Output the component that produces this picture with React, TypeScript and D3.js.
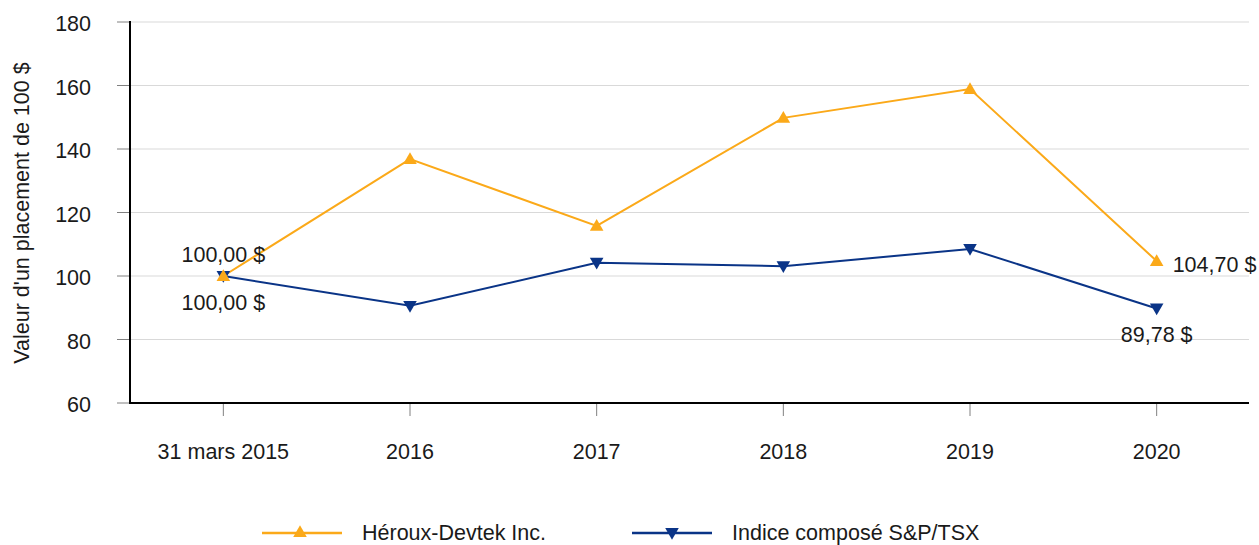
import React from "react";
import * as d3 from "d3";

const categories = ["31 mars 2015", "2016", "2017", "2018", "2019", "2020"];
const herouxValues = [100, 136.8, 115.8, 149.8, 158.9, 104.7];
const tsxValues = [100, 90.6, 104.2, 103.1, 108.5, 89.78];
const yTicks = [60, 80, 100, 120, 140, 160, 180];
const seriesNames = ["Héroux-Devtek Inc.", "Indice composé S&P/TSX"];

const W = 1259, H = 545;
const left = 130, right = 1250, top = 22, bottom = 403;
const ORANGE = "#FBA919";
const BLUE = "#0A3487";
const FONT = "'Liberation Sans', Arial, sans-serif";
const FS = 21.5;

export default function App() {
  const x = d3.scaleBand<string>().domain(categories).range([left, right]);
  const cx = (c: string) => (x(c) as number) + x.bandwidth() / 2;
  const y = d3.scaleLinear().domain([60, 180]).range([bottom, top]);
  const line = d3.line<number>().x((_, i) => cx(categories[i])).y((d) => y(d));
  const up = d3.symbol().type(d3.symbolTriangle).size(80)();
  const fmt = (v: number) => v.toFixed(2).replace(".", ",") + " $";
  const tri = (px: number, py: number, color: string, down: boolean, key?: any) => (
    <path key={key} d={up as string} transform={`translate(${px},${py + (down ? -1 : 1)}) rotate(${down ? 180 : 0})`} fill={color} />
  );
  const n = categories.length - 1;
  const txt = "#1a1a1a";
  return (
    <svg width={W} height={H} style={{ position: "absolute", left: 0, top: 0, fontFamily: FONT }}>
      {yTicks.map((t) => (
        <g key={t}>
          {t > 60 && <line x1={left} x2={right - 1} y1={y(t)} y2={y(t)} stroke="#d9d9d9" strokeWidth={1} />}
          <line x1={117} x2={left} y1={y(t)} y2={y(t)} stroke="#808080" strokeWidth={1} />
          <text x={91} y={y(t) + 9} textAnchor="end" fontSize={FS} fill={txt}>{t}</text>
        </g>
      ))}
      {categories.map((c) => (
        <g key={c}>
          <line x1={cx(c)} x2={cx(c)} y1={bottom} y2={416} stroke="#808080" strokeWidth={1} />
          <text x={cx(c)} y={459} textAnchor="middle" fontSize={FS} fill={txt}>{c}</text>
        </g>
      ))}
      <line x1={left} x2={left} y1={top - 1} y2={bottom + 1} stroke="#000" strokeWidth={2} />
      <line x1={left - 1} x2={right - 1} y1={bottom} y2={bottom} stroke="#000" strokeWidth={2} />
      <text transform={`translate(29,213) rotate(-90)`} textAnchor="middle" fontSize={FS} fill={txt}>
        Valeur d'un placement de 100 $
      </text>
      <path d={line(tsxValues) as string} fill="none" stroke={BLUE} strokeWidth={2} />
      <path d={line(herouxValues) as string} fill="none" stroke={ORANGE} strokeWidth={2} />
      {tsxValues.map((v, i) => tri(cx(categories[i]), y(v), BLUE, true, "t" + i))}
      {herouxValues.map((v, i) => tri(cx(categories[i]), y(v), ORANGE, false, "h" + i))}
      <text x={cx(categories[0])} y={y(herouxValues[0]) - 14} textAnchor="middle" fontSize={FS} fill={txt}>{fmt(herouxValues[0])}</text>
      <text x={cx(categories[0])} y={y(tsxValues[0]) + 34} textAnchor="middle" fontSize={FS} fill={txt}>{fmt(tsxValues[0])}</text>
      <text x={cx(categories[n]) + 16} y={y(herouxValues[n]) + 11} textAnchor="start" fontSize={FS} fill={txt}>{fmt(herouxValues[n])}</text>
      <text x={cx(categories[n])} y={y(tsxValues[n]) + 33.5} textAnchor="middle" fontSize={FS} fill={txt}>{fmt(tsxValues[n])}</text>
      <g>
        <line x1={262} x2={342} y1={533} y2={533} stroke={ORANGE} strokeWidth={2.5} />
        {tri(300, 532, ORANGE, false)}
        <text x={362} y={539.5} fontSize={FS} fill={txt}>{seriesNames[0]}</text>
        <line x1={632} x2={712} y1={533} y2={533} stroke={BLUE} strokeWidth={2.5} />
        {tri(672, 533, BLUE, true)}
        <text x={732} y={539.5} fontSize={FS} fill={txt}>{seriesNames[1]}</text>
      </g>
    </svg>
  );
}
